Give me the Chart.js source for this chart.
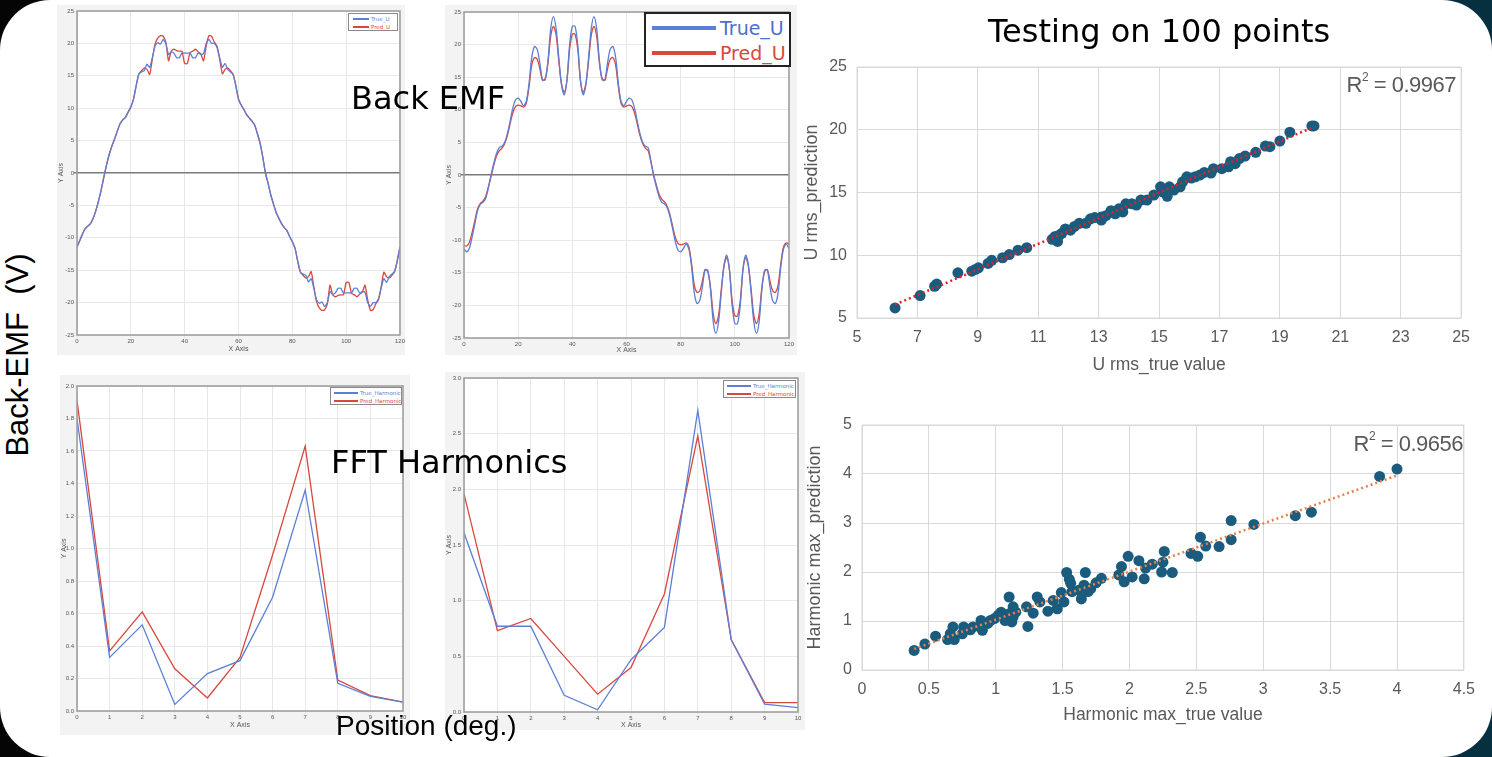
<!DOCTYPE html>
<html>
<head>
<meta charset="utf-8">
<script src="https://cdn.jsdelivr.net/npm/chart.js@4.4.1/dist/chart.umd.min.js"></script>
<style>
  html, body { margin: 0; padding: 0; }
  body { width: 1492px; height: 757px; overflow: hidden;
         background: linear-gradient(90deg, #050505 0%, #080b0c 45%, #06303f 55%, #06303f 100%); }
  #frame { position: absolute; left: 0; top: 0; width: 1492px; height: 757px; background: #fff; border-radius: 50px; overflow: hidden; }
  .panel { position: absolute; background: #f3f3f3; }
  .abs { position: absolute; }
  canvas { display: block; }
  .txt { position: absolute; white-space: nowrap; color: #000; z-index: 5; }
  .lg { position: absolute; background: #fff; border: 1px solid #8a8a8a; z-index: 4; font-family: 'DejaVu Sans', sans-serif; }
  .lg .row { display: flex; align-items: center; white-space: nowrap; }
  .lg .ln { display: inline-block; flex: none; }
  .r2 { position: absolute; font-family: 'Liberation Sans', sans-serif; color: #595959; font-size: 22px; z-index: 5; white-space: nowrap; letter-spacing: -0.5px; }
  .r2 sup { font-size: 12px; vertical-align: 11px; line-height: 0; }
</style>
</head>
<body>
<div id="frame">
  <div class="panel" style="left:57px;top:5px;width:348px;height:350px"><canvas id="emf1" width="348" height="350"></canvas></div>
  <div class="panel" style="left:445px;top:5px;width:352px;height:350px"><canvas id="emf2" width="352" height="350"></canvas></div>
  <div class="panel" style="left:60px;top:375px;width:350px;height:360px"><canvas id="fft1" width="350" height="360"></canvas></div>
  <div class="panel" style="left:445px;top:372px;width:360px;height:358px"><canvas id="fft2" width="360" height="358"></canvas></div>
  <div class="abs" style="left:800px;top:45px"><canvas id="rmsChart" width="680" height="340"></canvas></div>
  <div class="abs" style="left:800px;top:400px"><canvas id="harmChart" width="685" height="340"></canvas></div>

  <!-- legends -->
  <div class="lg" style="left:348px;top:13px;width:50px;height:18px;font-size:5.5px;padding-top:1px;box-sizing:border-box">
    <div class="row" style="height:8px"><span class="ln" style="width:16px;height:1.3px;background:#5b7fd6;margin:0 2px 0 4px"></span><span style="color:#5b7fd6">True_U</span></div>
    <div class="row" style="height:8px"><span class="ln" style="width:16px;height:1.3px;background:#d9483e;margin:0 2px 0 4px"></span><span style="color:#d9483e">Pred_U</span></div>
  </div>
  <div class="lg" style="left:644px;top:12px;width:147px;height:55px;border:2px solid #222;box-sizing:border-box;font-size:19px;padding-top:1px">
    <div class="row" style="height:25px"><span class="ln" style="width:64px;height:4px;background:#5b7fd6;margin:0 4px 0 6px"></span><span style="color:#4d6fd0">True_U</span></div>
    <div class="row" style="height:25px"><span class="ln" style="width:64px;height:4px;background:#d9483e;margin:0 4px 0 6px"></span><span style="color:#d9483e">Pred_U</span></div>
  </div>
  <div class="lg" style="left:330px;top:387px;width:72px;height:18px;font-size:5.5px;padding-top:1px;box-sizing:border-box">
    <div class="row" style="height:8px"><span class="ln" style="width:24px;height:1.3px;background:#5b7fd6;margin:0 2px 0 3px"></span><span style="color:#5b7fd6">True_Harmonic</span></div>
    <div class="row" style="height:8px"><span class="ln" style="width:24px;height:1.3px;background:#d9483e;margin:0 2px 0 3px"></span><span style="color:#d9483e">Pred_Harmonic</span></div>
  </div>
  <div class="lg" style="left:723px;top:380px;width:73px;height:18px;font-size:5.5px;padding-top:1px;box-sizing:border-box">
    <div class="row" style="height:8px"><span class="ln" style="width:24px;height:1.3px;background:#5b7fd6;margin:0 2px 0 3px"></span><span style="color:#5b7fd6">True_Harmonic</span></div>
    <div class="row" style="height:8px"><span class="ln" style="width:24px;height:1.3px;background:#d9483e;margin:0 2px 0 3px"></span><span style="color:#d9483e">Pred_Harmonic</span></div>
  </div>

  <!-- overlay texts -->
  <div class="txt" style="left:351px;top:79px;font:32px 'DejaVu Sans',sans-serif">Back EMF</div>
  <div class="txt" style="left:331px;top:443px;font:32px 'DejaVu Sans',sans-serif">FFT Harmonics</div>
  <div class="txt" style="left:336px;top:710px;font:28px 'Liberation Sans',Arial,sans-serif">Position (deg.)</div>
  <div class="txt" style="left:988px;top:12px;font:32px 'DejaVu Sans',sans-serif">Testing on 100 points</div>
  <div class="txt" style="left:18px;top:355px;font:31px 'Liberation Sans',Arial,sans-serif;transform:translate(-50%,-50%) rotate(-90deg)">Back-EMF&nbsp; (V)</div>
  <div class="r2" style="right:36px;top:72px">R<sup>2</sup> = 0.9967</div>
  <div class="r2" style="right:29px;top:431px">R<sup>2</sup> = 0.9656</div>
</div>

<script>
// Back EMF: position in degrees
const angleDeg = [0,1,2,3,4,5,6,7,8,9,10,11,12,13,14,15,16,17,18,19,20,21,22,23,24,25,26,27,28,29,
  30,31,32,33,34,35,36,37,38,39,40,41,42,43,44,45,46,47,48,49,50,51,52,53,54,55,56,57,58,59,
  60,61,62,63,64,65,66,67,68,69,70,71,72,73,74,75,76,77,78,79,80,81,82,83,84,85,86,87,88,89,
  90,91,92,93,94,95,96,97,98,99,100,101,102,103,104,105,106,107,108,109,110,111,112,113,114,115,116,117,118,119,120];

// case 1
const trueU1 = [-11.5,-10.5,-9.5,-8.6,-8.2,-7.8,-7.0,-5.8,-4.3,-2.6,
  -0.6,1.3,2.9,4.2,5.3,6.5,7.6,8.2,8.6,9.4,
  10.2,11.4,13.5,15.3,15.6,15.8,16.8,16.3,17.8,19.6,
  20.1,19.9,20.6,20.0,18.3,18.7,18.5,17.8,17.8,18.5,
  18.5,18.5,18.5,17.8,17.8,18.5,18.3,18.4,20.0,20.6,
  20.0,20.0,19.4,17.8,16.3,16.9,16.0,15.6,15.2,13.5,
  11.4,10.5,9.8,9.0,8.5,8.0,7.4,6.1,4.6,2.5,
  0.0,-1.6,-3.4,-4.8,-6.1,-7.0,-7.8,-8.4,-8.9,-9.8,
  -10.6,-11.6,-13.6,-15.3,-15.6,-15.8,-16.8,-16.3,-17.8,-19.6,
  -20.1,-19.9,-20.6,-20.0,-18.3,-18.7,-18.5,-17.8,-17.8,-18.5,
  -18.5,-18.5,-18.5,-17.8,-17.8,-18.5,-18.3,-18.4,-20.0,-20.6,
  -20.0,-20.0,-19.4,-17.8,-16.3,-16.9,-16.0,-15.6,-15.2,-13.5,
  -11.4];
const predU1 = [-11.3,-10.4,-9.4,-8.6,-8.2,-7.8,-7.0,-5.8,-4.3,-2.6,
  -0.6,1.3,2.9,4.2,5.3,6.5,7.6,8.2,8.6,9.4,
  10.2,11.4,13.5,15.3,15.8,16.2,16.0,15.2,17.6,19.9,
  20.8,21.2,21.1,20.2,17.3,18.8,19.1,18.9,18.8,18.8,
  16.9,16.9,18.6,18.8,19.1,18.7,18.4,17.3,19.6,21.2,
  21.1,20.2,19.6,17.6,15.3,16.0,16.2,15.8,15.2,13.5,
  11.4,10.5,9.8,9.0,8.5,8.0,7.4,6.1,4.6,2.5,
  0.0,-1.6,-3.4,-4.8,-6.1,-7.0,-7.8,-8.4,-8.9,-9.8,
  -10.6,-11.6,-13.6,-15.3,-15.8,-16.2,-16.0,-15.2,-17.6,-19.9,
  -20.8,-21.2,-21.1,-20.2,-17.3,-18.8,-19.1,-18.9,-18.8,-18.8,
  -16.9,-16.9,-18.6,-18.8,-19.1,-18.7,-18.4,-17.3,-19.6,-21.2,
  -21.1,-20.2,-19.6,-17.6,-15.3,-16.0,-16.2,-15.8,-15.2,-13.5,
  -11.4];

// case 2
const trueU2 = [-11.3,-11.8,-11.2,-9.5,-7.5,-5.5,-4.5,-4.2,-3.6,-2.0,
  0.0,1.8,3.3,4.2,4.4,5.0,6.3,8.2,10.2,11.5,
  11.8,11.3,10.6,11.3,14.0,18.0,19.7,19.3,17.2,14.6,
  14.6,17.5,22.4,24.3,22.5,18.0,13.8,12.3,14.5,20.0,
  22.8,22.8,20.0,14.5,12.3,13.8,18.0,22.5,24.3,22.4,
  17.5,14.6,14.6,17.2,19.3,19.7,18.0,14.0,11.3,10.6,
  11.3,11.8,11.5,10.2,8.2,6.3,5.0,4.4,4.2,2.2,
  0.0,-1.8,-3.3,-4.2,-4.4,-5.0,-6.3,-8.2,-10.2,-11.5,
  -11.8,-11.3,-10.6,-11.3,-14.0,-18.0,-19.7,-19.3,-17.2,-14.6,
  -14.6,-17.5,-22.4,-24.3,-22.5,-18.0,-13.8,-12.3,-14.5,-20.0,
  -22.8,-22.8,-20.0,-14.5,-12.3,-13.8,-18.0,-22.5,-24.3,-22.4,
  -17.5,-14.6,-14.6,-17.2,-19.3,-19.7,-18.0,-14.0,-11.3,-10.6,
  -11.3];
const predU2 = [-10.8,-10.9,-10.3,-8.8,-7.0,-5.2,-4.4,-4.0,-3.3,-1.8,
  -0.2,1.5,2.9,3.7,4.1,4.8,6.0,7.8,9.5,10.5,
  10.7,10.6,10.4,11.0,13.5,16.8,18.0,17.8,16.3,14.5,
  14.8,17.2,21.2,22.8,21.5,17.5,14.0,12.7,14.5,19.3,
  21.6,21.6,19.3,14.5,12.7,14.0,17.5,21.5,22.8,21.2,
  17.2,14.8,14.5,16.3,17.8,18.0,16.8,13.5,11.0,10.4,
  10.6,10.7,10.5,9.5,7.8,6.0,4.8,4.1,3.7,2.0,
  0.0,-1.5,-2.9,-3.7,-4.1,-4.8,-6.0,-7.8,-9.5,-10.5,
  -10.7,-10.6,-10.4,-11.0,-13.5,-16.8,-18.0,-17.8,-16.3,-14.5,
  -14.8,-17.2,-21.2,-22.8,-21.5,-17.5,-14.0,-12.7,-14.5,-19.3,
  -21.6,-21.6,-19.3,-14.5,-12.7,-14.0,-17.5,-21.5,-22.8,-21.2,
  -17.2,-14.8,-14.5,-16.3,-17.8,-18.0,-16.8,-13.5,-11.0,-10.4,
  -10.6];

// FFT harmonics
const harmOrder = [0,1,2,3,4,5,6,7,8,9,10];
const trueH1 = [1.80,0.33,0.53,0.04,0.23,0.31,0.70,1.36,0.17,0.09,0.055];
const predH1 = [1.91,0.37,0.61,0.26,0.08,0.33,0.96,1.63,0.19,0.095,0.055];
const trueH2 = [1.61,0.77,0.77,0.15,0.02,0.47,0.76,2.71,0.65,0.07,0.04];
const predH2 = [1.96,0.73,0.84,0.50,0.16,0.40,1.06,2.48,0.65,0.085,0.085];

// Testing on 100 points: U rms
const rmsTrue = [6.26,7.09,7.57,7.64,8.34,8.80,8.92,9.02,9.34,9.46,9.82,10.04,10.33,10.62,11.46,11.56,11.64,11.70,11.78,11.90,
  12.07,12.20,12.36,12.58,12.73,12.87,13.09,13.09,13.24,13.41,13.55,13.67,13.80,13.90,14.10,14.25,14.40,14.60,14.83,15.05,
  15.12,15.27,15.34,15.49,15.70,15.78,15.92,16.07,16.20,16.36,16.50,16.72,16.80,17.08,17.30,17.37,17.52,17.66,17.85,18.20,
  18.52,18.67,19.00,19.33,20.06,20.13];
const rmsPred = [5.80,6.79,7.53,7.70,8.60,8.73,8.87,9.00,9.35,9.60,9.80,10.05,10.40,10.60,11.27,11.50,11.10,11.60,11.75,12.10,
  12.00,12.30,12.55,12.55,12.90,13.00,12.80,13.05,13.15,13.55,13.30,13.70,13.45,14.10,14.10,14.00,14.40,14.40,14.80,15.45,
  15.05,14.70,15.45,15.20,15.45,15.85,16.25,16.15,16.25,16.40,16.60,16.55,16.90,16.90,17.05,17.45,17.30,17.70,17.90,18.20,
  18.70,18.65,19.10,19.80,20.30,20.30];
const rmsTrendX = [6.26, 20.1];
const rmsTrendY = [6.07, 20.2];

// Harmonic max
const hmTrue = [0.39,0.47,0.55,0.64,0.66,0.68,0.69,0.75,0.76,0.81,0.83,0.88,0.89,0.90,0.94,0.96,0.99,1.02,1.04,1.07,
  1.10,1.10,1.12,1.13,1.13,1.15,1.23,1.24,1.28,1.31,1.33,1.39,1.43,1.46,1.49,1.51,1.53,1.55,1.56,1.57,
  1.62,1.64,1.66,1.67,1.69,1.71,1.75,1.79,1.92,1.94,1.96,1.99,2.02,2.07,2.11,2.12,2.17,2.24,2.25,2.26,
  2.32,2.46,2.51,2.53,2.57,2.67,2.76,2.76,2.93,3.24,3.36,3.87,4.00];
const hmPred = [0.40,0.53,0.69,0.62,0.74,0.88,0.62,0.74,0.88,0.82,0.88,0.88,1.01,0.81,0.95,1.01,1.05,1.12,1.18,1.01,
  1.49,1.15,0.98,1.29,1.08,1.18,1.29,0.89,1.16,1.49,1.39,1.20,1.42,1.25,1.58,1.39,1.99,1.85,1.77,1.60,
  1.63,1.45,1.73,1.99,1.60,1.66,1.78,1.87,1.94,2.11,1.80,2.32,1.90,2.23,1.86,2.08,2.16,2.00,2.20,2.42,
  1.99,2.38,2.32,2.71,2.53,2.52,2.66,3.05,2.97,3.15,3.22,3.95,4.10];
const hmTrendX = [0.39, 4.0];
const hmTrendY = [0.43, 3.97];

const BLUE = '#5b7fd6';
const RED = '#d9483e';
const DOT = '#1b5c7e';

const xy = (xs, ys) => xs.map((x, i) => ({ x: x, y: ys[i] }));

// white plot area + frame around it
const plotBox = {
  id: 'plotBox',
  beforeDraw(chart, args, opts) {
    const a = chart.chartArea, ctx = chart.ctx;
    ctx.save();
    ctx.fillStyle = '#fff';
    ctx.fillRect(a.left, a.top, a.right - a.left, a.bottom - a.top);
    ctx.restore();
  },
  afterDraw(chart, args, opts) {
    if (!opts.stroke) return;
    const a = chart.chartArea, ctx = chart.ctx;
    ctx.save();
    ctx.strokeStyle = opts.stroke;
    ctx.lineWidth = opts.width || 1;
    ctx.strokeRect(a.left, a.top, a.right - a.left, a.bottom - a.top);
    ctx.restore();
  }
};
Chart.register(plotBox);

function smallChart(id, xs, t, p, c) {
  return new Chart(document.getElementById(id), {
    type: 'line',
    data: {
      datasets: [
        { data: xy(xs, t), borderColor: BLUE, borderWidth: 1.3, pointRadius: 0, tension: c.tension },
        { data: xy(xs, p), borderColor: RED, borderWidth: 1.3, pointRadius: 0, tension: c.tension }
      ]
    },
    options: {
      responsive: false, animation: false,
      layout: { padding: { top: c.pt, right: c.pr, left: 0, bottom: 0 } },
      plugins: { legend: { display: false }, tooltip: { enabled: false }, plotBox: { stroke: '#9a9a9a', width: 1.5 } },
      scales: {
        x: {
          type: 'linear', min: c.xmin, max: c.xmax,
          ticks: { stepSize: c.xstep, font: { size: 6 }, color: '#555', padding: 0, maxRotation: 0, autoSkip: false },
          grid: { color: '#e8e8e8', tickLength: 3 },
          border: { display: false },
          title: { display: true, text: 'X Axis', font: { size: 7 }, color: '#555', padding: { top: 0, bottom: c.xtp } },
          afterFit: s => { s.height = c.xh; }
        },
        y: {
          min: c.ymin, max: c.ymax,
          ticks: { stepSize: c.ystep, font: { size: 6 }, color: '#555', padding: 0, autoSkip: false,
                   callback: v => c.ydec ? v.toFixed(1) : v },
          grid: {
            color: ctx => (c.zero && ctx.tick && ctx.tick.value === 0) ? '#7a7a7a' : '#e8e8e8',
            lineWidth: ctx => (c.zero && ctx.tick && ctx.tick.value === 0) ? 1.5 : 1,
            tickLength: 3
          },
          border: { display: false },
          title: { display: true, text: 'Y Axis', font: { size: 7 }, color: '#555', padding: { top: c.ytp, bottom: 0 } },
          afterFit: s => { s.width = c.yw; }
        }
      }
    }
  });
}

smallChart('emf1', angleDeg, trueU1, predU1, { tension: 0.2, pt: 6, pr: 5, xh: 20, yw: 20, xtp: 2, ytp: 0,
  xmin: 0, xmax: 120, xstep: 20, ymin: -25, ymax: 25, ystep: 5, zero: true });
smallChart('emf2', angleDeg, trueU2, predU2, { tension: 0.3, pt: 7, pr: 8, xh: 17, yw: 19, xtp: 1, ytp: 0,
  xmin: 0, xmax: 120, xstep: 20, ymin: -25, ymax: 25, ystep: 5, zero: true });
smallChart('fft1', harmOrder, trueH1, predH1, { tension: 0, pt: 11, pr: 7, xh: 24, yw: 17, xtp: 6, ytp: 0,
  xmin: 0, xmax: 10, xstep: 1, ymin: 0, ymax: 2, ystep: 0.2, ydec: true });
smallChart('fft2', harmOrder, trueH2, predH2, { tension: 0, pt: 6, pr: 7, xh: 18, yw: 19, xtp: 1, ytp: 0,
  xmin: 0, xmax: 10, xstep: 1, ymin: 0, ymax: 3, ystep: 0.5, ydec: true });

const narrow = "'Liberation Sans Narrow', 'Liberation Sans', sans-serif";

function scatterChart(id, xs, ys, tx, ty, trendColor, c) {
  return new Chart(document.getElementById(id), {
    type: 'scatter',
    data: {
      datasets: [
        { type: 'line', data: xy(tx, ty), borderColor: trendColor, borderWidth: 2.5, borderDash: [2, 3],
          pointRadius: 0, fill: false, order: 0 },
        { data: xy(xs, ys), backgroundColor: DOT, borderColor: DOT, pointRadius: 5.5, borderWidth: 0, order: 1 }
      ]
    },
    options: {
      responsive: false, animation: false,
      layout: { padding: { top: c.pt, right: c.pr, left: 0, bottom: 0 } },
      plugins: { legend: { display: false }, tooltip: { enabled: false }, plotBox: { stroke: '#d9d9d9', width: 1 } },
      scales: {
        x: {
          type: 'linear', min: c.xmin, max: c.xmax,
          ticks: { stepSize: c.xstep, font: { size: 16, family: narrow }, color: '#595959', padding: 10, maxRotation: 0, autoSkip: false,
                   callback: v => String(v) },
          grid: { color: '#d9d9d9', drawTicks: false },
          border: { display: false },
          title: { display: true, text: c.xtitle, font: { size: 17.5, family: narrow }, color: '#595959', padding: { top: 0, bottom: c.xtp } },
          afterFit: s => { s.height = c.xh; }
        },
        y: {
          min: c.ymin, max: c.ymax,
          ticks: { stepSize: c.ystep, font: { size: 16, family: narrow }, color: '#595959', padding: 10, autoSkip: false,
                   callback: v => String(v) },
          grid: { color: '#d9d9d9', drawTicks: false },
          border: { display: false },
          title: { display: true, text: c.ytitle, font: { size: 18, family: narrow }, color: '#595959', padding: { top: c.ytp, bottom: 0 } },
          afterFit: s => { s.width = c.yw; }
        }
      }
    }
  });
}

scatterChart('rmsChart', rmsTrue, rmsPred, rmsTrendX, rmsTrendY, '#e0202a', {
  pt: 22, pr: 15, xh: 67, yw: 57, xtp: 9, ytp: 1,
  xmin: 5, xmax: 25, xstep: 2, ymin: 5, ymax: 25, ystep: 5,
  xtitle: 'U rms_true value', ytitle: 'U rms_prediction' });
scatterChart('harmChart', hmTrue, hmPred, hmTrendX, hmTrendY, '#e8804a', {
  pt: 25, pr: 15, xh: 70, yw: 62, xtp: 14, ytp: 4,
  xmin: 0, xmax: 4.5, xstep: 0.5, ymin: 0, ymax: 5, ystep: 1,
  xtitle: 'Harmonic max_true value', ytitle: 'Harmonic max_prediction' });
</script>
</body>
</html>
